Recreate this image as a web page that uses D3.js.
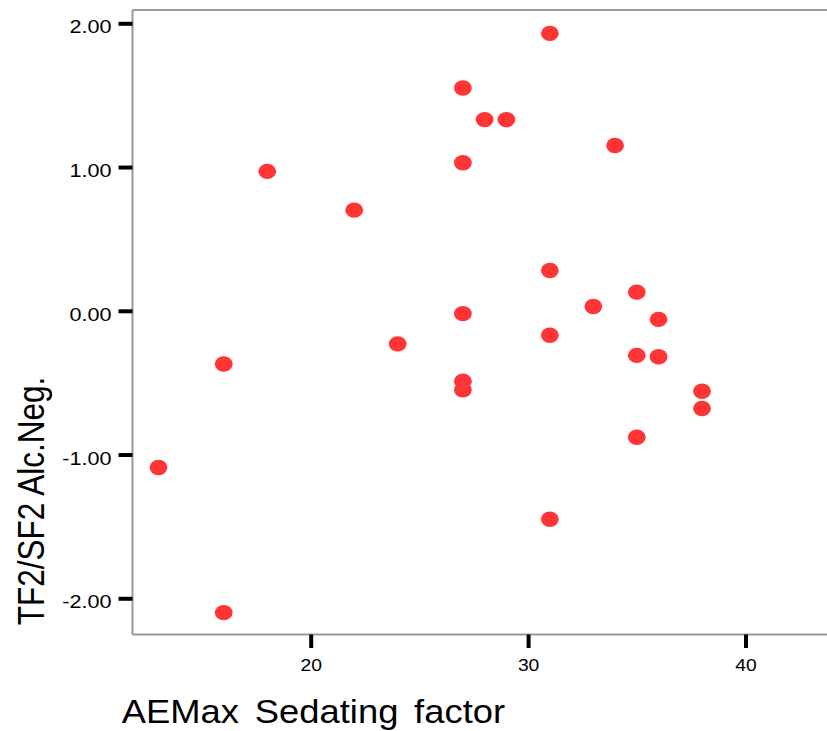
<!DOCTYPE html>
<html>
<head>
<meta charset="utf-8">
<script src="https://cdn.jsdelivr.net/npm/d3@7/dist/d3.min.js"></script>
<style>
  html, body { margin: 0; padding: 0; background: #fff; }
  svg { display: block; }
  text { font-family: "Liberation Sans", Arial, sans-serif; fill: #000; }
</style>
</head>
<body>
<svg id="chart" width="827" height="731"></svg>
<script>
// AEMax sedating factor (x) against TF2/SF2 alcohol-negative score (y)
const sedating = [13, 16, 16, 18, 22, 24, 27, 27, 27, 27, 27, 28, 29,
                  31, 31, 31, 31, 33, 34, 35, 35, 35, 36, 36, 38, 38];
const alcNeg   = [-1.09, -0.37, -2.10, 0.97, 0.70, -0.23, 1.55, 1.03, -0.02, -0.49, -0.55, 1.33, 1.33,
                  1.93, 0.28, -0.17, -1.45, 0.03, 1.15, 0.13, -0.31, -0.88, -0.06, -0.32, -0.56, -0.68];
const xTicks = [20, 30, 40];
const yTicks = [2, 1, 0, -1, -2];
const xTitle = "AEMax Sedating factor";
const yTitle = "TF2/SF2 Alc.Neg.";

const points = sedating.map((s, i) => ({ x: s, y: alcNeg[i] }));

const svg = d3.select("#chart");
const plotLeft = 132.5, plotRight = 827, plotTop = 10, plotBottom = 634.5;
const stretch = 1.17; // text is drawn slightly wide

const x = d3.scaleLinear().domain([11.803, 43.749]).range([plotLeft, plotRight]);
const y = d3.scaleLinear().domain([-2.252, 2.0925]).range([plotBottom, plotTop]);

// plot frame: top, left and bottom edges
const frame = svg.append("g").attr("stroke", "#999").attr("stroke-width", 2);
frame.append("line").attr("x1", plotLeft).attr("x2", plotRight).attr("y1", plotTop).attr("y2", plotTop);
frame.append("line").attr("x1", plotLeft).attr("x2", plotLeft).attr("y1", plotTop).attr("y2", plotBottom);
frame.append("line").attr("x1", plotLeft).attr("x2", plotRight).attr("y1", plotBottom).attr("y2", plotBottom);

// y axis
const yAxis = svg.append("g")
  .attr("transform", `translate(${plotLeft},0)`)
  .call(d3.axisLeft(y).tickValues(yTicks).tickSize(14).tickPadding(7)
        .tickFormat(d => d.toFixed(2)));
yAxis.select(".domain").remove();
yAxis.selectAll(".tick line").attr("stroke", "#000").attr("stroke-width", 4);
yAxis.selectAll(".tick text")
  .attr("x", 0)
  .attr("dy", "0.52em")
  .attr("transform", `translate(-21,0) scale(${stretch},1)`)
  .style("font-size", "18.5px")
  .style("font-family", "'Liberation Sans', Arial, sans-serif");

// x axis
const xAxis = svg.append("g")
  .attr("transform", `translate(0,${plotBottom})`)
  .call(d3.axisBottom(x).tickValues(xTicks).tickSize(13.5).tickPadding(11.5)
        .tickFormat(d3.format("d")));
xAxis.select(".domain").remove();
xAxis.selectAll(".tick line").attr("stroke", "#000").attr("stroke-width", 4);
xAxis.selectAll(".tick text")
  .attr("transform", `scale(${stretch},1)`)
  .style("font-size", "16.5px")
  .style("font-family", "'Liberation Sans', Arial, sans-serif");

// data points
svg.append("g")
  .selectAll("ellipse")
  .data(points)
  .join("ellipse")
  .attr("cx", d => x(d.x))
  .attr("cy", d => y(d.y))
  .attr("rx", 8.9)
  .attr("ry", 7.7)
  .attr("fill", "#ff3434");

// axis titles
svg.append("text")
  .attr("transform", `translate(121.7,723) scale(1.12,1)`)
  .style("font-size", "32.5px")
  .style("word-spacing", "5px")
  .text(xTitle);

svg.append("text")
  .attr("transform", `translate(44,501) scale(1.18,1) rotate(-90)`)
  .attr("text-anchor", "middle")
  .style("font-size", "31.5px")
  .text(yTitle);
</script>
</body>
</html>
